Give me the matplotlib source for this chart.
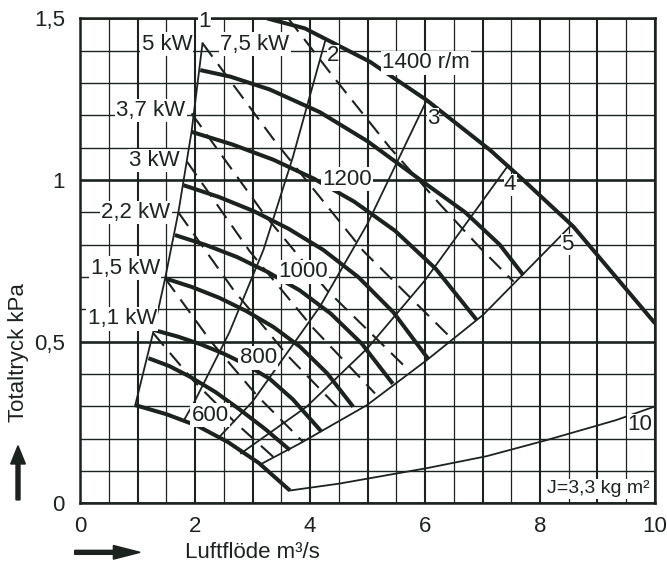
import numpy as np
import matplotlib.pyplot as plt
from matplotlib.patches import FancyArrow

plt.rcParams['font.family'] = ['Liberation Sans', 'DejaVu Sans']

ink = '#1c231f'

# fan curves, speed r/m (flow m3/s, pressure kPa)
q600 = [0.96, 1.50, 2.04, 2.57, 3.11, 3.65]
p600 = [0.304, 0.276, 0.240, 0.190, 0.125, 0.040]
q700 = [1.19, 1.55, 1.91, 2.35, 2.78, 3.22, 3.65]
p700 = [0.449, 0.425, 0.392, 0.345, 0.290, 0.230, 0.165]
q800 = [1.29, 1.70, 2.10, 2.50, 2.90, 3.30, 3.70, 4.20]
p800 = [0.536, 0.516, 0.492, 0.463, 0.428, 0.385, 0.322, 0.222]
q900 = [1.48, 1.95, 2.42, 2.89, 3.36, 3.83, 4.30, 4.75]
p900 = [0.696, 0.669, 0.636, 0.595, 0.546, 0.484, 0.402, 0.299]
q1000 = [1.65, 2.19, 2.73, 3.27, 3.82, 4.36, 4.90, 5.44]
p1000 = [0.830, 0.799, 0.762, 0.715, 0.659, 0.587, 0.494, 0.370]
q1100 = [1.80, 2.41, 3.02, 3.63, 4.23, 4.84, 5.45, 6.06]
p1100 = [0.984, 0.948, 0.904, 0.849, 0.784, 0.700, 0.591, 0.446]
q1200 = [1.94, 2.65, 3.36, 4.07, 4.77, 5.48, 6.19, 6.90]
p1200 = [1.149, 1.110, 1.063, 1.004, 0.933, 0.843, 0.725, 0.567]
q1300 = [2.09, 2.61, 3.30, 4.17, 5.00, 6.00, 6.70, 7.30, 7.71]
p1300 = [1.340, 1.320, 1.280, 1.210, 1.120, 0.990, 0.900, 0.800, 0.706]
q1400 = [3.25, 3.91, 5.04, 6.03, 7.13, 7.71, 8.58, 10.0]
p1400 = [1.500, 1.469, 1.366, 1.247, 1.093, 1.000, 0.856, 0.557]

# motor power lines (dashed)
q_1_1kw = [1.27, 1.97, 2.67, 3.36]
p_1_1kw = [0.527, 0.380, 0.255, 0.144]
q_1_5kw = [1.48, 2.28, 3.08, 3.88]
p_1_5kw = [0.696, 0.500, 0.333, 0.190]
q_2_2kw = [1.71, 2.67, 3.62, 4.58]
p_2_2kw = [0.900, 0.660, 0.455, 0.279]
q_3kw = [1.86, 2.95, 4.04, 5.13]
p_3kw = [1.057, 0.780, 0.545, 0.340]
q_3_7kw = [1.94, 3.19, 4.29, 5.71]
p_3_7kw = [1.206, 0.897, 0.660, 0.413]
q_5kw = [2.13, 3.42, 4.93, 6.49]
p_5kw = [1.423, 1.113, 0.780, 0.505]
q_7_5kw = [3.62, 4.38, 5.39, 6.26, 6.96, 7.54]
p_7_5kw = [1.500, 1.325, 1.100, 0.925, 0.790, 0.686]

# system lines 1-5 and 10
q_sys1 = [0.96, 1.27, 1.48, 1.71, 1.94, 2.13]
p_sys1 = [0.304, 0.527, 0.696, 0.900, 1.150, 1.423]
q_sys2 = [1.80, 2.00, 2.60, 3.19, 3.70, 4.26]
p_sys2 = [0.255, 0.318, 0.530, 0.784, 1.070, 1.428]
q_sys3 = [2.42, 3.00, 4.17, 5.00, 6.03]
p_sys3 = [0.205, 0.315, 0.608, 0.865, 1.247]
q_sys4 = [2.80, 3.94, 5.00, 6.00, 7.45]
p_sys4 = [0.155, 0.299, 0.480, 0.690, 1.046]
q_sys5 = [3.13, 3.83, 4.99, 6.03, 7.01, 8.52]
p_sys5 = [0.120, 0.186, 0.304, 0.443, 0.583, 0.856]
q_sys10 = [3.65, 4.50, 6.03, 7.07, 8.12, 9.33, 10.0]
p_sys10 = [0.040, 0.061, 0.109, 0.146, 0.196, 0.258, 0.300]

speed_labels = ['600', '800', '1000', '1200', '1400 r/m']
speed_label_q = [2.26, 3.10, 3.88, 4.64, 6.02]
speed_label_p = [0.273, 0.450, 0.716, 1.003, 1.362]

kw_labels = ['1,1 kW', '1,5 kW', '2,2 kW', '3 kW', '3,7 kW', '5 kW']
kw_label_q = [1.34, 1.39, 1.57, 1.74, 1.83, 1.95]
kw_label_p = [0.571, 0.727, 0.900, 1.060, 1.215, 1.420]

sys_labels = ['1', '2', '3', '4', '5', '10']
sys_label_q = [2.17, 4.40, 6.14, 7.48, 8.47, 9.74]
sys_label_p = [1.490, 1.385, 1.190, 0.985, 0.800, 0.243]

fig = plt.figure(figsize=(6.67, 5.70), dpi=100)
ax = fig.add_axes([0.12, 0.1168, 0.862, 0.851])
ax.set_xlim(0, 10)
ax.set_ylim(0, 1.5)

# grid
for x in np.arange(0, 10.01, 0.5):
    ax.axvline(x, color=ink, lw=1.5 if x % 1 == 0 else 0.9, zorder=1)
for i in range(16):
    ax.axhline(i / 10, color=ink, lw=1.9 if i % 5 == 0 else 1.0, zorder=1)

for q, p in [(q600, p600), (q700, p700), (q800, p800), (q900, p900),
             (q1000, p1000), (q1100, p1100), (q1200, p1200),
             (q1300, p1300), (q1400, p1400)]:
    ax.plot(q, p, color=ink, lw=2.9, zorder=3, solid_capstyle='butt',
            solid_joinstyle='round')

for q, p in [(q_1_1kw, p_1_1kw), (q_1_5kw, p_1_5kw), (q_2_2kw, p_2_2kw),
             (q_3kw, p_3kw), (q_3_7kw, p_3_7kw), (q_5kw, p_5kw),
             (q_7_5kw, p_7_5kw)]:
    ax.plot(q, p, color=ink, lw=1.5, ls=(0, (8, 4.5)), zorder=3)

for q, p in [(q_sys1, p_sys1), (q_sys2, p_sys2), (q_sys3, p_sys3),
             (q_sys4, p_sys4), (q_sys5, p_sys5), (q_sys10, p_sys10)]:
    ax.plot(q, p, color=ink, lw=1.3, zorder=3)

box = dict(facecolor='white', edgecolor='none', pad=1.0)
for t, q, p in zip(speed_labels, speed_label_q, speed_label_p):
    ax.text(q, p, t, fontsize=16, ha='center', va='center', color=ink,
            bbox=box, zorder=5)
for t, q, p in zip(kw_labels, kw_label_q, kw_label_p):
    ax.text(q, p, t, fontsize=16, ha='right', va='center', color=ink,
            bbox=box, zorder=5)
ax.text(3.04, 1.42, '7,5 kW', fontsize=16, ha='center', va='center',
        color=ink, bbox=box, zorder=5)
for t, q, p in zip(sys_labels, sys_label_q, sys_label_p):
    ax.text(q, p, t, fontsize=16, ha='center', va='center', color=ink,
            bbox=dict(facecolor='white', edgecolor='none', pad=0.2), zorder=5)
ax.text(9.9, 0.045, 'J=3,3 kg m²', fontsize=14, ha='right', va='center',
        color=ink, bbox=box, zorder=5)

ax.set_xticks([0, 2, 4, 6, 8, 10])
ax.set_xticklabels(['0', '2', '4', '6', '8', '10'])
ax.set_yticks([0, 0.5, 1, 1.5])
ax.set_yticklabels(['0', '0,5', '1', '1,5'])
ax.tick_params(axis='both', length=0, labelsize=16, colors=ink)
ax.tick_params(axis='x', pad=9)
ax.tick_params(axis='y', pad=11)
for s in ax.spines.values():
    s.set_linewidth(1.8)
    s.set_color(ink)

fig.text(0.027, 0.382, 'Totaltryck kPa', rotation=90, fontsize=16,
         ha='center', va='center', color=ink)
fig.text(0.378, 0.031, 'Luftflöde m³/s', fontsize=16, ha='center',
         va='center', color=ink)
fig.patches.append(FancyArrow(
    0.027, 0.123, 0, 0.095, width=0.006, head_width=0.022, head_length=0.032,
    length_includes_head=True, transform=fig.transFigure, color=ink))
fig.patches.append(FancyArrow(
    0.112, 0.031, 0.098, 0, width=0.007, head_width=0.024, head_length=0.04,
    length_includes_head=True, transform=fig.transFigure, color=ink))

fig.savefig('out.png', dpi=100, facecolor='white')
